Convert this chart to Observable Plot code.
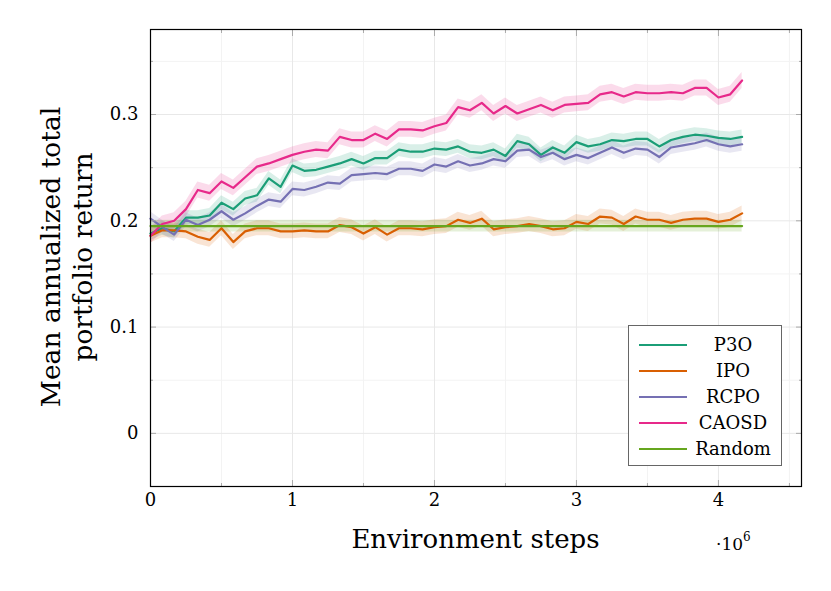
<!DOCTYPE html>
<html><head><meta charset="utf-8">
<script src="https://cdn.jsdelivr.net/npm/d3@7"></script>
<script src="https://cdn.jsdelivr.net/npm/@observablehq/plot@0.6"></script>
<style>
body{margin:0;background:#fff;}
#wrap{position:relative;width:831px;height:591px;font-family:"DejaVu Serif",serif;color:#000;overflow:hidden;}
#wrap svg{position:absolute;left:0;top:0;}
#wrap svg text{font-size:18px;font-family:"DejaVu Serif",serif;}
.ov{position:absolute;white-space:nowrap;}
#xtitle{left:150px;width:651px;top:524px;text-align:center;font-size:26px;line-height:30px;}
#xmult{left:716px;top:529px;font-size:17px;line-height:20px;}
#xmult sup{font-size:12px;position:relative;top:-2px;}
#ytitle{left:67px;top:257px;width:460px;transform:translate(-50%,-50%) rotate(-90deg);text-align:center;font-size:26.5px;line-height:32px;}
#legend{left:628px;top:325px;width:154px;height:141px;box-sizing:border-box;border:1px solid #666;background:#fff;padding-top:6px;}
.lrow{position:relative;height:26px;}
.lline{position:absolute;left:10px;top:12px;width:48px;height:2px;}
.ltext{position:absolute;left:60px;width:88px;top:0;text-align:center;font-size:18px;line-height:26px;}
</style></head><body><div id="wrap"></div>
<script>
const steps = [0, 83333, 166667, 250000, 333333, 416667, 500000, 583333, 666667, 750000, 833333, 916667, 1000000, 1083333, 1166667, 1250000, 1333333, 1416667, 1500000, 1583333, 1666667, 1750000, 1833333, 1916667, 2000000, 2083333, 2166667, 2250000, 2333333, 2416667, 2500000, 2583333, 2666667, 2750000, 2833333, 2916667, 3000000, 3083333, 3166667, 3250000, 3333333, 3416667, 3500000, 3583333, 3666667, 3750000, 3833333, 3916667, 4000000, 4083333, 4166667];
const p3o = [0.188, 0.193, 0.190, 0.203, 0.203, 0.205, 0.217, 0.211, 0.221, 0.224, 0.240, 0.232, 0.252, 0.247, 0.248, 0.251, 0.254, 0.258, 0.254, 0.259, 0.259, 0.267, 0.265, 0.265, 0.268, 0.267, 0.270, 0.265, 0.264, 0.267, 0.261, 0.275, 0.272, 0.262, 0.269, 0.264, 0.274, 0.270, 0.272, 0.276, 0.275, 0.277, 0.277, 0.270, 0.276, 0.279, 0.281, 0.280, 0.278, 0.277, 0.279];
const ipo = [0.186, 0.191, 0.191, 0.190, 0.185, 0.182, 0.193, 0.180, 0.190, 0.193, 0.193, 0.190, 0.190, 0.191, 0.190, 0.190, 0.196, 0.194, 0.188, 0.194, 0.187, 0.193, 0.193, 0.192, 0.194, 0.195, 0.201, 0.198, 0.202, 0.192, 0.194, 0.195, 0.197, 0.195, 0.192, 0.193, 0.199, 0.197, 0.204, 0.203, 0.197, 0.204, 0.201, 0.201, 0.198, 0.201, 0.202, 0.202, 0.199, 0.201, 0.207];
const rcpo = [0.202, 0.194, 0.187, 0.201, 0.196, 0.201, 0.209, 0.201, 0.207, 0.214, 0.220, 0.218, 0.230, 0.229, 0.232, 0.236, 0.235, 0.243, 0.244, 0.245, 0.244, 0.249, 0.249, 0.247, 0.253, 0.251, 0.256, 0.252, 0.254, 0.258, 0.256, 0.266, 0.267, 0.260, 0.264, 0.258, 0.262, 0.259, 0.264, 0.269, 0.264, 0.268, 0.267, 0.260, 0.269, 0.271, 0.273, 0.276, 0.272, 0.270, 0.272];
const caosd = [0.186, 0.197, 0.200, 0.211, 0.229, 0.226, 0.237, 0.231, 0.241, 0.251, 0.254, 0.258, 0.262, 0.265, 0.267, 0.266, 0.279, 0.276, 0.276, 0.282, 0.277, 0.286, 0.286, 0.285, 0.289, 0.292, 0.307, 0.304, 0.311, 0.301, 0.308, 0.301, 0.305, 0.309, 0.304, 0.309, 0.310, 0.311, 0.319, 0.321, 0.317, 0.321, 0.320, 0.320, 0.321, 0.320, 0.325, 0.325, 0.316, 0.319, 0.332];
const randomSteps = [0, 4166667];
const randomValues = [0.195, 0.195];

const seriesNames = ["P3O", "IPO", "RCPO", "CAOSD", "Random"];
const seriesColors = ["#1b9e77", "#d95f02", "#7570b3", "#e7298a", "#66a61e"];
const bandHalfWidth = [0.0065, 0.007, 0.0065, 0.0075, 0.0055];

const yTicks = [0, 0.1, 0.2, 0.3];
const yMinorTicks = [0.05, 0.15, 0.25, 0.35];
const xTicks = [0, 1000000, 2000000, 3000000, 4000000];
const xMinorTicks = [500000, 1500000, 2500000, 3500000, 4500000];

const seriesData = [
  [steps, p3o], [steps, ipo], [steps, rcpo], [steps, caosd], [randomSteps, randomValues]
];
const rows = [];
seriesData.forEach(([xs, ys], i) => {
  xs.forEach((s, j) => rows.push({
    name: seriesNames[i], step: s, value: ys[j],
    lo: ys[j] - bandHalfWidth[i], hi: ys[j] + bandHalfWidth[i]
  }));
});

const tickStroke = "#aaaaaa";
const chart = Plot.plot({
  width: 831, height: 591,
  marginLeft: 150, marginRight: 30, marginTop: 29, marginBottom: 105,
  x: {domain: [0, 4585000]},
  y: {domain: [-0.05, 0.38]},
  color: {domain: seriesNames, range: seriesColors},
  style: {fontFamily: "DejaVu Serif", fontSize: "18px", background: "white", color: "black"},
  marks: [
    Plot.gridY(yMinorTicks, {stroke: "#f3f3f3", strokeOpacity: 1}),
    Plot.gridX(xMinorTicks, {stroke: "#f3f3f3", strokeOpacity: 1}),
    Plot.gridY(yTicks, {stroke: "#e8e8e8", strokeOpacity: 1}),
    Plot.gridX(xTicks, {stroke: "#e8e8e8", strokeOpacity: 1}),
    Plot.areaY(rows, {x: "step", y1: "lo", y2: "hi", z: "name", fill: "name", fillOpacity: 0.17}),
    Plot.lineY(rows, {x: "step", y: "value", z: "name", stroke: "name", strokeWidth: 2.2}),
    Plot.axisY({ticks: yTicks, anchor: "left", tickSize: 0, tickPadding: 12, label: null,
      tickFormat: d => d === 0 ? "0" : d.toFixed(1)}),
    Plot.axisX({ticks: xTicks, anchor: "bottom", tickSize: 0, tickPadding: 7, label: null,
      tickFormat: d => String(d / 1000000)}),
    Plot.axisY({ticks: yTicks, anchor: "left", tickSize: 6, dx: 6, fill: "none", stroke: tickStroke, label: null}),
    Plot.axisY({ticks: yTicks, anchor: "right", tickSize: 6, dx: -6, fill: "none", stroke: tickStroke, label: null}),
    Plot.axisY({ticks: yMinorTicks, anchor: "left", tickSize: 3, dx: 3, fill: "none", stroke: tickStroke, label: null}),
    Plot.axisY({ticks: yMinorTicks, anchor: "right", tickSize: 3, dx: -3, fill: "none", stroke: tickStroke, label: null}),
    Plot.axisX({ticks: xTicks, anchor: "bottom", tickSize: 6, dy: -6, fill: "none", stroke: tickStroke, label: null}),
    Plot.axisX({ticks: xTicks, anchor: "top", tickSize: 6, dy: 6, fill: "none", stroke: tickStroke, label: null}),
    Plot.axisX({ticks: xMinorTicks, anchor: "bottom", tickSize: 3, dy: -3, fill: "none", stroke: tickStroke, label: null}),
    Plot.axisX({ticks: xMinorTicks, anchor: "top", tickSize: 3, dy: 3, fill: "none", stroke: tickStroke, label: null}),
    Plot.frame({stroke: "black", strokeWidth: 1.2})
  ]
});
const wrap = document.getElementById("wrap");
wrap.appendChild(chart);

function addDiv(id, html) {
  const d = document.createElement("div");
  d.className = "ov"; d.id = id; d.innerHTML = html;
  wrap.appendChild(d); return d;
}
addDiv("xtitle", "Environment steps");
addDiv("xmult", "·10<sup>6</sup>");
addDiv("ytitle", "Mean annualized total<br>portfolio return");
const legend = addDiv("legend", "");
seriesNames.forEach((n, i) => {
  const r = document.createElement("div"); r.className = "lrow";
  const l = document.createElement("div"); l.className = "lline"; l.style.background = seriesColors[i];
  const t = document.createElement("div"); t.className = "ltext"; t.textContent = n;
  r.appendChild(l); r.appendChild(t); legend.appendChild(r);
});
</script></body></html>
